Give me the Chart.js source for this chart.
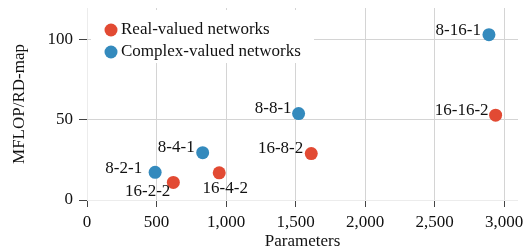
<!DOCTYPE html>
<html>
<head>
<meta charset="utf-8">
<script src="https://cdn.jsdelivr.net/npm/chart.js@4/dist/chart.umd.min.js"></script>
<style>
  body { margin: 0; background: #fff; }
</style>
</head>
<body>
<canvas id="scatter-chart" width="532" height="250"></canvas>
<script>
// data
const realNames = ['16-2-2', '16-4-2', '16-8-2', '16-16-2'];
const realParams = [621, 951, 1613, 2939];
const realFlops = [11, 17, 29, 53];

const complexNames = ['8-2-1', '8-4-1', '8-8-1', '8-16-1'];
const complexParams = [490, 832, 1522, 2891];
const complexFlops = [17.3, 29.6, 54, 103.3];

const xTicks = [0, 500, 1000, 1500, 2000, 2500, 3000];
const yTicks = [0, 50, 100];

// label placement (dx, dy from point centre, alignment)
const realLabelPos = [
  { dx: -3, dy: 9, align: 'right' },
  { dx: 6, dy: 16, align: 'center' },
  { dx: -8, dy: -5, align: 'right' },
  { dx: -7, dy: -5, align: 'right' }
];
const complexLabelPos = [
  { dx: -13, dy: -4, align: 'right' },
  { dx: -8, dy: -5, align: 'right' },
  { dx: -7, dy: -5, align: 'right' },
  { dx: -8, dy: -4, align: 'right' }
];

const RED = '#E24A33';
const BLUE = '#348ABD';
const FONT = "'Liberation Serif', 'Times New Roman', serif";

function toPoints(xs, ys) {
  return xs.map(function(x, i) { return { x: x, y: ys[i] }; });
}

function gridColor(c) {
  return c.tick && c.tick.value === 0 ? '#ececec' : '#d4d4d4';
}

// fixed axis boxes so the plot area sits where the reference has it
function fixX(scale) {
  scale.height = 50;
  scale.paddingLeft = 0;
  scale.paddingRight = 0;
}
function fixY(scale) {
  scale.width = 87;
  scale.paddingTop = 0;
  scale.paddingBottom = 0;
}

const pointLabels = {
  id: 'pointLabels',
  afterDatasetsDraw(chart) {
    const ctx = chart.ctx;
    ctx.save();
    ctx.font = '17px ' + FONT;
    ctx.fillStyle = '#111';
    ctx.textBaseline = 'middle';
    chart.data.datasets.forEach(function(ds, d) {
      const meta = chart.getDatasetMeta(d);
      meta.data.forEach(function(pt, i) {
        const p = ds.labelPos[i];
        ctx.textAlign = p.align;
        ctx.fillText(ds.names[i], pt.x + p.dx, pt.y + p.dy);
      });
    });
    ctx.restore();
  }
};

const insideLegend = {
  id: 'insideLegend',
  beforeDatasetsDraw(chart) {
    const ctx = chart.ctx;
    const a = chart.chartArea;
    ctx.save();
    ctx.fillStyle = '#fff';
    ctx.fillRect(a.left + 4, a.top + 2, 223, 53);
    ctx.font = '17px ' + FONT;
    ctx.textBaseline = 'middle';
    ctx.textAlign = 'left';
    chart.data.datasets.forEach(function(ds, i) {
      const y = a.top + 22 + i * 22;
      ctx.beginPath();
      ctx.arc(a.left + 24, y, 6.5, 0, Math.PI * 2);
      ctx.fillStyle = ds.backgroundColor;
      ctx.fill();
      ctx.fillStyle = '#111';
      ctx.fillText(ds.label, a.left + 34, y);
    });
    ctx.restore();
  }
};

new Chart(document.getElementById('scatter-chart'), {
  type: 'scatter',
  data: {
    datasets: [
      {
        label: 'Real-valued networks',
        data: toPoints(realParams, realFlops),
        names: realNames,
        labelPos: realLabelPos,
        backgroundColor: RED,
        borderWidth: 0,
        pointRadius: 6.5,
        pointHoverRadius: 6.5
      },
      {
        label: 'Complex-valued networks',
        data: toPoints(complexParams, complexFlops),
        names: complexNames,
        labelPos: complexLabelPos,
        backgroundColor: BLUE,
        borderWidth: 0,
        pointRadius: 6.5,
        pointHoverRadius: 6.5
      }
    ]
  },
  options: {
    responsive: false,
    animation: false,
    devicePixelRatio: 1,
    layout: { padding: { top: 8, right: 14, left: 0, bottom: 0 } },
    plugins: {
      legend: { display: false },
      tooltip: { enabled: false }
    },
    scales: {
      x: {
        type: 'linear',
        min: 0,
        max: 3100,
        afterBuildTicks: function(scale) {
          scale.ticks = xTicks.map(function(v) { return { value: v }; });
        },
        afterFit: fixX,
        ticks: {
          font: { family: FONT, size: 17 },
          color: '#111',
          padding: 5,
          maxRotation: 0,
          callback: function(v) { return v.toLocaleString('en-US'); }
        },
        grid: { color: gridColor, tickLength: 7, tickColor: '#444' },
        border: { display: false },
        title: {
          display: true,
          text: 'Parameters',
          font: { family: FONT, size: 17 },
          color: '#111',
          padding: { top: 0, bottom: -2 }
        }
      },
      y: {
        min: 0,
        max: 120,
        afterBuildTicks: function(scale) {
          scale.ticks = yTicks.map(function(v) { return { value: v }; });
        },
        afterFit: fixY,
        ticks: {
          font: { family: FONT, size: 17 },
          color: '#111',
          padding: 6
        },
        grid: { color: gridColor, tickLength: 8, tickColor: '#444' },
        border: { display: false },
        title: {
          display: true,
          text: 'MFLOP/RD-map',
          font: { family: FONT, size: 17 },
          color: '#111',
          padding: { top: 9, bottom: 0 }
        }
      }
    }
  },
  plugins: [insideLegend, pointLabels]
});
</script>
</body>
</html>
